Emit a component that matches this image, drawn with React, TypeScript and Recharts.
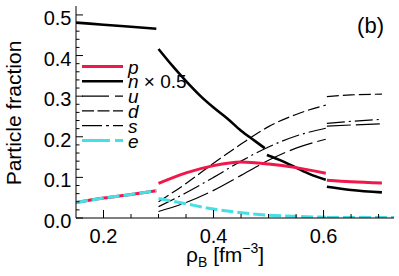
import React from "react";
import { LineChart, Line, XAxis, YAxis } from "recharts";

// hadronic phase
const xHad = [0.15, 0.2, 0.25, 0.296];
const nHad = [0.481, 0.476, 0.471, 0.466];
const pHad = [0.038, 0.049, 0.058, 0.067];
const eHad = [0.038, 0.049, 0.058, 0.067];

// mixed phase
const xMix = [0.3, 0.35, 0.4, 0.45, 0.5, 0.55, 0.604];
const pMix = [0.085, 0.111, 0.129, 0.138, 0.133, 0.124, 0.11];
const eMix = [0.048, 0.035, 0.022, 0.013, 0.007, 0.004, 0.002];
const uMix = [0.016, 0.038, 0.068, 0.105, 0.142, 0.172, 0.194];
const dMix = [0.04, 0.085, 0.135, 0.182, 0.225, 0.255, 0.278];
const sMix = [0.028, 0.062, 0.1, 0.14, 0.175, 0.202, 0.221];
const xNMixA = [0.3, 0.325, 0.35, 0.375, 0.4, 0.425, 0.45, 0.475, 0.493];
const nMixA = [0.416, 0.375, 0.337, 0.302, 0.272, 0.245, 0.215, 0.19, 0.172];
const xNMixB = [0.497, 0.525, 0.55, 0.575, 0.604];
const nMixB = [0.155, 0.14, 0.124, 0.108, 0.094];

// quark phase
const xQ = [0.606, 0.65, 0.706];
const nQ = [0.077, 0.069, 0.063];
const pQ = [0.093, 0.089, 0.086];
const uQ = [0.226, 0.229, 0.232];
const dQ = [0.299, 0.303, 0.305];
const sQ = [0.233, 0.238, 0.243];
const xEQ = [0.606, 0.65, 0.728];
const eQ = [0.001, 0.001, 0.001];

const xTicks = [0.2, 0.25, 0.3, 0.35, 0.4, 0.45, 0.5, 0.55, 0.6, 0.65, 0.7];
const xLabelTicks = [0.2, 0.4, 0.6];
const yTicks = [0, 0.02, 0.04, 0.06, 0.08, 0.1, 0.12, 0.14, 0.16, 0.18, 0.2, 0.22, 0.24, 0.26, 0.28, 0.3,
    0.32, 0.34, 0.36, 0.38, 0.4, 0.42, 0.44, 0.46, 0.48, 0.5];
const yLabelTicks = [0, 0.1, 0.2, 0.3, 0.4, 0.5];

const RED = "#f0174b";
const CYAN = "#45dfe6";
const FONT = "'Liberation Sans', Arial, sans-serif";

const seg = (xs, ys) => xs.map((x, i) => ({ x, y: ys[i] }));

const isLabel = (list, v) => list.some(t => Math.abs(t - v) < 1e-6);

const BottomTick = ({ x, y, payload }) => {
    const major = isLabel(xLabelTicks, payload.value);
    return (<g>
        <line x1={x} y1={y} x2={x} y2={y - (major ? 8 : 4)} stroke="#000" />
        {major && <text x={x} y={y + 25} textAnchor="middle" fontSize={20} fontFamily={FONT}>{payload.value.toFixed(1)}</text>}
    </g>);
};
const TopTick = ({ x, y, payload }) => {
    const major = isLabel(xLabelTicks, payload.value);
    return <line x1={x} y1={y} x2={x} y2={y + (major ? 8 : 4)} stroke="#000" />;
};
const LeftTick = ({ x, y, payload }) => {
    const major = isLabel(yLabelTicks, payload.value);
    return (<g>
        <line x1={x} y1={y} x2={x + (major ? 7 : 3.5)} y2={y} stroke="#000" />
        {major && <text x={x - 4.5} y={y + 10} textAnchor="end" fontSize={20} fontFamily={FONT}>{payload.value.toFixed(1)}</text>}
    </g>);
};
const RightTick = ({ x, y, payload }) => {
    const major = isLabel(yLabelTicks, payload.value);
    return <line x1={x} y1={y} x2={x - (major ? 7 : 3.5)} y2={y} stroke="#000" />;
};

const legendRows = [
    { key: "p", color: RED, width: 3, dash: undefined },
    { key: "n", color: "#000", width: 2.6, dash: undefined },
    { key: "u", color: "#000", width: 1.2, dash: "27 6" },
    { key: "d", color: "#000", width: 1.2, dash: "12 3.5" },
    { key: "s", color: "#000", width: 1.2, dash: "20 4 3 4" },
    { key: "e", color: CYAN, width: 3, dash: "28 5" },
];

const common = { dot: false, activeDot: false, isAnimationActive: false, legendType: "none" as const, type: "monotone" as const, dataKey: "y" };

export default function App() {
    return (
        <div style={{ position: "absolute", left: 0, top: 0, width: 399, height: 276, background: "#fff" }}>
            <LineChart width={399} height={276} margin={{ top: 6, right: 5, left: 0, bottom: 0 }}>
                <XAxis dataKey="x" type="number" domain={[0.15, 0.728]} allowDataOverflow ticks={xTicks} interval={0}
                    height={58} tickSize={0} tickMargin={0} tickLine={false} axisLine={{ stroke: "#000" }} tick={BottomTick} />
                <XAxis xAxisId="top" orientation="top" dataKey="x" type="number" domain={[0.15, 0.728]} allowDataOverflow ticks={xTicks} interval={0}
                    height={0} tickSize={0} tickMargin={0} tickLine={false} axisLine={{ stroke: "#000" }} tick={TopTick} />
                <YAxis type="number" domain={[0, 0.522]} allowDataOverflow ticks={yTicks} interval={0}
                    width={76} tickSize={0} tickMargin={0} tickLine={false} axisLine={{ stroke: "#000" }} tick={LeftTick} />
                <YAxis yAxisId="right" orientation="right" type="number" domain={[0, 0.522]} allowDataOverflow ticks={yTicks} interval={0}
                    width={0} tickSize={0} tickMargin={0} tickLine={false} axisLine={{ stroke: "#000" }} tick={RightTick} />

                <Line {...common} data={seg(xHad, nHad)} stroke="#000" strokeWidth={2.6} />
                <Line {...common} data={seg(xNMixA, nMixA)} stroke="#000" strokeWidth={2.6} />
                <Line {...common} data={seg(xNMixB, nMixB)} stroke="#000" strokeWidth={2.6} />
                <Line {...common} data={seg(xQ, nQ)} stroke="#000" strokeWidth={2.6} />

                <Line {...common} data={seg(xMix, uMix)} stroke="#000" strokeWidth={1.2} strokeDasharray="24 5" />
                <Line {...common} data={seg(xQ, uQ)} stroke="#000" strokeWidth={1.2} strokeDasharray="24 5" />
                <Line {...common} data={seg(xMix, dMix)} stroke="#000" strokeWidth={1.2} strokeDasharray="12 4" />
                <Line {...common} data={seg(xQ, dQ)} stroke="#000" strokeWidth={1.2} strokeDasharray="12 4" />
                <Line {...common} data={seg(xMix, sMix)} stroke="#000" strokeWidth={1.2} strokeDasharray="18 4 2 4" />
                <Line {...common} data={seg(xQ, sQ)} stroke="#000" strokeWidth={1.2} strokeDasharray="18 4 2 4" />

                <Line {...common} data={seg(xHad, pHad)} stroke={RED} strokeWidth={3} />
                <Line {...common} data={seg(xMix, pMix)} stroke={RED} strokeWidth={3} />
                <Line {...common} data={seg(xQ, pQ)} stroke={RED} strokeWidth={3} />

                <Line {...common} data={seg(xHad, eHad)} stroke={CYAN} strokeWidth={3} strokeDasharray="12 4" />
                <Line {...common} data={seg(xMix, eMix)} stroke={CYAN} strokeWidth={3} strokeDasharray="12 4" />
                <Line {...common} data={seg(xEQ, eQ)} stroke={CYAN} strokeWidth={3} strokeDasharray="12 4" />
            </LineChart>

            <svg width={399} height={276} style={{ position: "absolute", left: 0, top: 0, pointerEvents: "none" }} fontFamily={FONT}>
                {legendRows.map((r, i) => {
                    const y = 66.5 + i * 14.8;
                    return (<g key={r.key}>
                        <line x1={82} x2={123} y1={y} y2={y} stroke={r.color} strokeWidth={r.width} strokeDasharray={r.dash} />
                        <text x={128} y={y + 7} fontSize={19}>
                            <tspan fontStyle="italic">{r.key}</tspan>
                            {r.key === "n" && <tspan> × 0.5</tspan>}
                        </text>
                    </g>);
                })}
                <text x={384} y={33} textAnchor="end" fontSize={22}>(b)</text>
                <text transform="translate(21,113) rotate(-90)" textAnchor="middle" fontSize={21}>Particle fraction</text>
                <text x={186} y={262} fontSize={21}>
                    ρ<tspan fontSize={14} dy={5}>B</tspan><tspan dy={-5}> [fm</tspan><tspan fontSize={14} dy={-9}>−3</tspan><tspan dy={9}>]</tspan>
                </text>
            </svg>
        </div>
    );
}
